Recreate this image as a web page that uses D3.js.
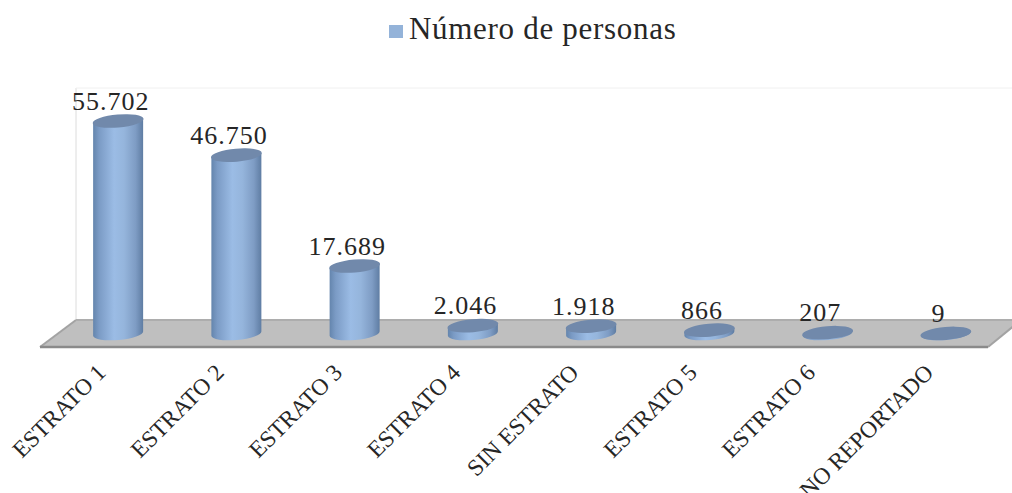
<!DOCTYPE html>
<html><head><meta charset="utf-8">
<script src="https://cdn.jsdelivr.net/npm/d3@7"></script>
<style>html,body{margin:0;padding:0;background:#fff;overflow:hidden}svg{display:block}text{font-family:"Liberation Serif",serif;fill:#262626}</style>
</head><body><svg id="c" width="1012" height="493"></svg>
<script>
const categories=["ESTRATO 1","ESTRATO 2","ESTRATO 3","ESTRATO 4","SIN ESTRATO","ESTRATO 5","ESTRATO 6","NO REPORTADO"];
const values=[55702,46750,17689,2046,1918,866,207,9];
const seriesName="Número de personas";
const floorPts=[[40,347],[76,320],[1021,320],[988,347]];
const svg=d3.select("#c");
const x=d3.scaleBand().domain(categories).range([59,1005]).padding(0);
const y=d3.scaleLinear().domain([0,55702]).range([333.5,121]);
const fmt=d3.formatLocale({decimal:",",thousands:".",grouping:[3],currency:["",""]}).format(",d");
const defs=svg.append("defs");
const g=defs.append("linearGradient").attr("id","cyl");
[[0,"#6485ad"],[.12,"#7b9bc5"],[.42,"#9bbce5"],[.62,"#95b5dc"],[.85,"#7e9cc4"],[1,"#5f7da3"]].forEach(s=>g.append("stop").attr("offset",s[0]).attr("stop-color",s[1]));
// wall
svg.append("line").attr("x1",76).attr("x2",76).attr("y1",88).attr("y2",320).attr("stroke","#dcdcdc");
svg.append("line").attr("x1",76).attr("x2",1012).attr("y1",88).attr("y2",88).attr("stroke","#f0f0f0");
// floor
svg.append("path").attr("d",d3.line()(floorPts)+"Z").attr("fill","#bfbfbf");
svg.append("path").attr("d",d3.line()(floorPts.slice(0,2))).attr("stroke","#a3a3a3").attr("stroke-width",2).attr("fill","none");
svg.append("path").attr("d",d3.line()([floorPts[1],floorPts[2]])).attr("stroke","#adadad").attr("stroke-width",2).attr("fill","none");
svg.append("path").attr("d",d3.line()([floorPts[2],floorPts[3]])).attr("stroke","#a3a3a3").attr("stroke-width",2).attr("fill","none");
svg.append("path").attr("d",d3.line()([floorPts[0],floorPts[3]])).attr("stroke","#8a8a8a").attr("stroke-width",2.5).attr("fill","none");
// cylinders
const rx=25,ry=6.5,tilt=-5,dy=2.2;
const rows=categories.map((c,i)=>({c,v:values[i]}));
const cx=d=>x(d.c)+x.bandwidth()/2;
const bars=svg.append("g").selectAll("g").data(rows).join("g");
bars.append("path").attr("fill","url(#cyl)").attr("d",d=>{
 const c=cx(d),t=y(d.v),b=y(0);
 return `M${c-rx},${t+dy}L${c-rx},${b+dy}A${rx},${ry} ${tilt} 0 0 ${c+rx},${b-dy}L${c+rx},${t-dy}Z`;
});
bars.append("ellipse").attr("fill","#7189ab").attr("cx",cx).attr("cy",d=>y(d.v)).attr("rx",rx+.5).attr("ry",ry)
 .attr("transform",d=>`rotate(${tilt} ${cx(d)} ${y(d.v)})`);
// value labels
svg.append("g").selectAll("text").data(rows).join("text")
 .attr("x",d=>cx(d)-7.5).attr("y",d=>y(d.v)-11.5).attr("text-anchor","middle")
 .attr("font-size",26).attr("letter-spacing",1).text(d=>fmt(d.v));
// category axis
const ax=svg.append("g").attr("transform","translate(0,360)").call(d3.axisBottom(x).tickSize(0));
ax.select(".domain").remove();
ax.selectAll("text").attr("font-size",23.5).attr("text-anchor","end").style("font-family",'"Liberation Serif",serif').style("fill","#262626")
 .attr("x",0).attr("y",0).attr("dy",0)
 .attr("transform","translate(-11,14) rotate(-45)");
// legend
svg.append("rect").attr("x",389).attr("y",25).attr("width",14).attr("height",13).attr("fill","#94b3d9");
svg.append("text").attr("x",409).attr("y",39).attr("font-size",31).attr("letter-spacing",.7).text(seriesName);
</script></body></html>
